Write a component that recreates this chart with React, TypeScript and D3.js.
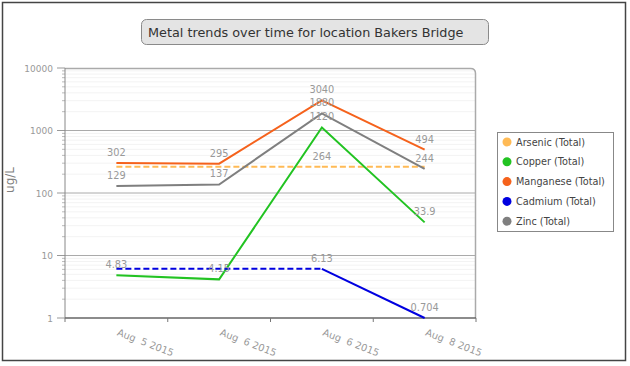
import React from 'react';
import * as d3 from 'd3';

const categories = ['Aug  5 2015', 'Aug  6 2015', 'Aug  6 2015', 'Aug  8 2015'];
const seriesNames = ['Arsenic (Total)', 'Copper (Total)', 'Manganese (Total)', 'Cadmium (Total)', 'Zinc (Total)'];
const seriesColors = ['#FFBA55', '#22C322', '#F5621C', '#0000E0', '#7F7F7F'];
// null = no sample; the chart carries the nearest value across as a dashed line
const arsenic = [null, null, 264, null];
const copper = [4.83, 4.15, 1120, 33.9];
const manganese = [302, 295, 3040, 494];
const cadmium = [null, null, 6.13, 0.704];
const zinc = [129, 137, 1880, 244];
const yTicks = [1, 10, 100, 1000, 10000];

const seriesValues: (number | null)[][] = [arsenic, copper, manganese, cadmium, zinc];

const W = 630;
const H = 366;
const left = 65, right = 476, top = 68, bottom = 318;

export default function App() {
  const x = d3.scaleBand<number>().domain(d3.range(categories.length)).range([left, right]);
  const cx = (i: number) => (x(i) as number) + x.bandwidth() / 2;
  const y = d3.scaleLog().domain([1, 10000]).range([bottom, top]).clamp(true);
  const line = d3.line<[number, number]>().x(d => d[0]).y(d => d[1]);

  // minor grid values 2..9 per decade
  const minor: number[] = [];
  for (let d = 1; d < 10000; d *= 10) for (let k = 2; k < 10; k++) minor.push(d * k);

  const grey = '#999';

  return (
    <svg width={W} height={H} style={{ position: 'absolute', left: 0, top: 0, fontFamily: 'DejaVu Sans, Verdana, sans-serif' }}>
      <rect x={0} y={0} width={W} height={H} fill="#fff" />
      <rect x={2.5} y={2.5} width={623} height={358} fill="none" stroke="#444" strokeWidth={1.5} />

      {/* title */}
      <rect x={141.5} y={19.5} width={347} height={25} rx={5} fill="#e4e4e4" stroke="#8a8a8a" />
      <text x={148} y={37} fontSize={12.8} fill="#333">Metal trends over time for location Bakers Bridge</text>

      {/* minor grid */}
      {minor.map(v => (
        <g key={'m' + v}>
          <line x1={left} x2={right} y1={y(v)} y2={y(v)} stroke="#f3f3f3" />
          <line x1={left - 3} x2={left} y1={y(v)} y2={y(v)} stroke="#bbb" />
        </g>
      ))}
      {/* major grid + y ticks */}
      {yTicks.map(v => (
        <g key={'t' + v}>
          {v !== 1 && v !== 10000 && <line x1={left} x2={right} y1={y(v)} y2={y(v)} stroke="#aaa" />}
          <line x1={left - 8} x2={left} y1={y(v)} y2={y(v)} stroke="#999" />
          <text x={53} y={y(v) + 3.5} fontSize={9} fill={grey} textAnchor="end">{v}</text>
        </g>
      ))}

      {/* plot frame: top and right with rounded corner */}
      <path d={`M${left},${top + 0.5} H${right - 5.5} Q${right - 0.5},${top + 0.5} ${right - 0.5},${top + 5.5} V${bottom}`}
        fill="none" stroke="#aaa" strokeWidth={1.5} />
      <line x1={left} x2={left} y1={top} y2={bottom} stroke="#888" />
      <line x1={left} x2={right} y1={bottom} y2={bottom} stroke="#666" strokeWidth={1.5} />

      {/* x ticks and labels */}
      {d3.range(categories.length + 1).map(i => {
        const xt = i < categories.length ? (x(i) as number) : right;
        return <line key={'xt' + i} x1={xt} x2={xt} y1={bottom} y2={bottom + 4} stroke="#777" />;
      })}
      {categories.map((c, i) => (
        <text key={'xl' + i} transform={`translate(${cx(i)},${335}) rotate(21)`} fontSize={9.8} fill={grey}
          style={{ whiteSpace: 'pre' }}>{c}</text>
      ))}

      <text transform={`translate(14,180) rotate(-90)`} fontSize={12} fill="#808080" textAnchor="middle">ug/L</text>

      {/* series lines */}
      {seriesValues.map((vals, s) => {
        const pts: [number, number][] = [];
        vals.forEach((v, i) => { if (v != null) pts.push([cx(i), y(v)]); });
        const firstIdx = vals.findIndex(v => v != null);
        let lastIdx = -1;
        vals.forEach((v, i) => { if (v != null) lastIdx = i; });
        const dashes: [number, number][][] = [];
        if (firstIdx > 0) dashes.push([[cx(0), y(vals[firstIdx] as number)], [cx(firstIdx), y(vals[firstIdx] as number)]]);
        if (lastIdx < vals.length - 1) dashes.push([[cx(lastIdx), y(vals[lastIdx] as number)], [cx(vals.length - 1), y(vals[lastIdx] as number)]]);
        return (
          <g key={'s' + s}>
            {dashes.map((d, k) => (
              <path key={k} d={line(d) as string} fill="none" stroke={seriesColors[s]} strokeWidth={2} strokeDasharray="6,3" />
            ))}
            {pts.length > 1 && <path d={line(pts) as string} fill="none" stroke={seriesColors[s]} strokeWidth={2} />}
          </g>
        );
      })}

      {/* value labels */}
      {seriesValues.map((vals, s) => vals.map((v, i) => v == null ? null : (
        <text key={`l${s}-${i}`} x={cx(i)} y={y(v) - 7} fontSize={9.8} fill={grey} textAnchor="middle">{v}</text>
      )))}

      {/* legend */}
      <rect x={497.5} y={132.5} width={116} height={99} fill="#fff" stroke="#888" />
      {seriesNames.map((n, i) => (
        <g key={'lg' + i} transform={`translate(0,${142 + i * 19.8})`}>
          <circle cx={507} cy={0} r={4.5} fill={seriesColors[i]} />
          <text x={516} y={3.5} fontSize={9.7} fill="#444">{n}</text>
        </g>
      ))}
    </svg>
  );
}
